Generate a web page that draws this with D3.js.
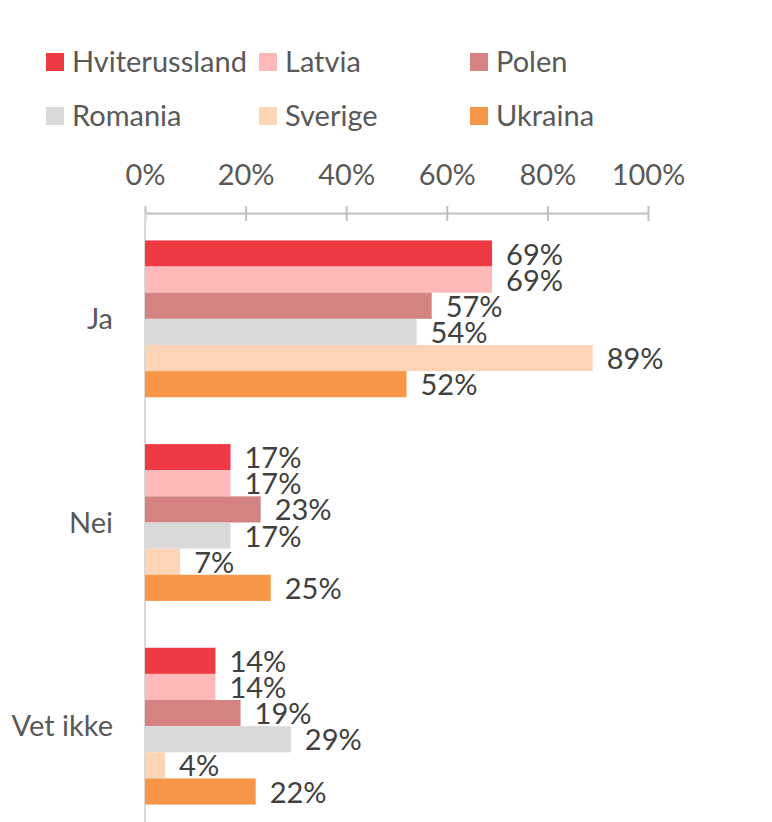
<!DOCTYPE html>
<html>
<head>
<meta charset="utf-8">
<script src="https://cdn.jsdelivr.net/npm/d3@7"></script>
<style>
  body { margin: 0; background: #fff; }
  text { font-family: Lato, "Open Sans", sans-serif; }
</style>
</head>
<body>
<div id="container"></div>
<script>
const categories = ["Ja", "Nei", "Vet ikke"];
const countries = ["Hviterussland", "Latvia", "Polen", "Romania", "Sverige", "Ukraina"];
const colors = ["#EF3A44", "#FFB9B9", "#D48282", "#D9D9D9", "#FDD4B5", "#F79646"];
const values = {
  "Hviterussland": [69, 17, 14],
  "Latvia":        [69, 17, 14],
  "Polen":         [57, 23, 19],
  "Romania":       [54, 17, 29],
  "Sverige":       [89, 7, 4],
  "Ukraina":       [52, 25, 22]
};
const ticks = [0, 20, 40, 60, 80, 100];

const w = 772, h = 822;
const margin = {top: 213, left: 145, right: 124};

const chart = d3.select('#container')
                .append('svg')
                .attr('width', w)
                .attr('height', h);

// scales
const x = d3.scaleLinear()
            .domain([0, 100])
            .range([margin.left, w - margin.right]);

const y = d3.scaleBand()
            .domain(categories)
            .range([217, 828])
            .paddingInner(0.23)
            .paddingOuter(0.115);

const ySub = d3.scaleBand()
               .domain(countries)
               .range([0, y.bandwidth()]);

// x axis (on top)
const xAxis = d3.axisTop(x)
                .tickValues(ticks)
                .tickSize(0)
                .tickPadding(28)
                .tickFormat(d => d + '%');

const gx = chart.append('g')
                .attr('transform', `translate(0, ${margin.top})`)
                .call(xAxis);
gx.select('.domain').attr('stroke', '#BFBFBF').attr('stroke-width', 2);
gx.selectAll('.tick line').remove();
gx.selectAll('.tick')
  .append('line')
  .attr('y1', -7).attr('y2', 8)
  .attr('stroke', '#BFBFBF').attr('stroke-width', 2);
gx.selectAll('.tick text')
  .attr('fill', '#595959')
  .style('font-size', '29px');

// vertical axis line
chart.append('line')
     .attr('x1', x(0)).attr('x2', x(0))
     .attr('y1', margin.top).attr('y2', h)
     .attr('stroke', '#D9D9D9').attr('stroke-width', 2);

// category labels
chart.selectAll('text.cat')
     .data(categories).enter()
     .append('text')
     .attr('class', 'cat')
     .attr('x', 113)
     .attr('y', d => y(d) + y.bandwidth() / 2)
     .attr('dy', '0.35em')
     .attr('text-anchor', 'end')
     .attr('fill', '#595959')
     .style('font-size', '29px')
     .text(d => d);

// bars
const groups = chart.selectAll('g.group')
                    .data(categories).enter()
                    .append('g')
                    .attr('class', 'group')
                    .attr('transform', d => `translate(0, ${y(d)})`);

groups.selectAll('rect')
      .data((d, ci) => countries.map((c, i) => ({country: c, value: values[c][ci], color: colors[i]})))
      .enter()
      .append('rect')
      .attr('x', x(0))
      .attr('y', d => ySub(d.country))
      .attr('width', d => x(d.value) - x(0))
      .attr('height', ySub.bandwidth())
      .attr('fill', d => d.color);

groups.selectAll('text')
      .data((d, ci) => countries.map((c, i) => ({country: c, value: values[c][ci]})))
      .enter()
      .append('text')
      .attr('x', d => x(d.value) + 14)
      .attr('y', d => ySub(d.country) + ySub.bandwidth() / 2)
      .attr('dy', '0.38em')
      .attr('fill', '#404040')
      .style('font-size', '29px')
      .text(d => d.value + '%');

// legend
const legendX = [46, 259, 470];
const legendY = [62, 116];
const legend = chart.append('g').attr('id', 'legend');
const items = legend.selectAll('g')
                    .data(countries).enter()
                    .append('g')
                    .attr('transform', (d, i) => `translate(${legendX[i % 3]}, ${legendY[Math.floor(i / 3)]})`);
items.append('rect')
     .attr('x', 0).attr('y', -9)
     .attr('width', 18).attr('height', 18)
     .attr('fill', (d, i) => colors[i]);
items.append('text')
     .attr('x', 26)
     .attr('dy', '0.36em')
     .attr('fill', '#595959')
     .style('font-size', '29px')
     .text(d => d);
</script>
</body>
</html>
